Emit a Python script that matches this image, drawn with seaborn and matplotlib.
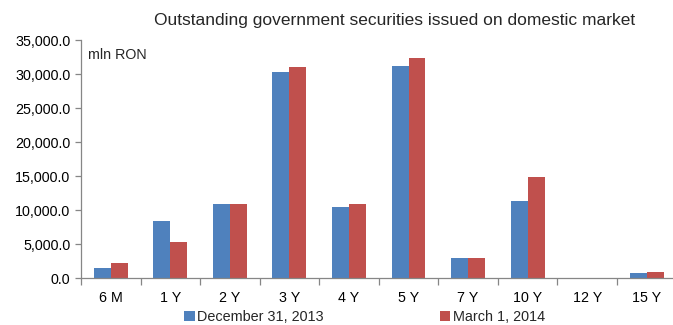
import numpy as np
import pandas as pd
import seaborn as sns
import matplotlib.pyplot as plt
from matplotlib.ticker import FuncFormatter, FixedLocator

maturities = ["6 M", "1 Y", "2 Y", "3 Y", "4 Y", "5 Y", "7 Y", "10 Y", "12 Y", "15 Y"]
dec_2013 = [1560, 8370, 10910, 30250, 10470, 31130, 2940, 11350, 0, 780]
mar_2014 = [2200, 5330, 10910, 31030, 10910, 32400, 2940, 14830, 0, 930]
series_names = ["December 31, 2013", "March 1, 2014"]
y_ticks = [0, 5000, 10000, 15000, 20000, 25000, 30000, 35000]

df = pd.DataFrame({
    "maturity": maturities * 2,
    "value": dec_2013 + mar_2014,
    "series": [series_names[0]] * len(maturities) + [series_names[1]] * len(maturities),
})

sns.set_theme(style="white")
plt.rcParams["font.family"] = ["Liberation Sans", "DejaVu Sans"]

fig = plt.figure(figsize=(6.73, 3.25), dpi=100)
W, H = 673, 325
ax = fig.add_axes([81 / W, 1 - 278.3 / H, (676.5 - 81) / W, (278.3 - 40) / H])

palette = {series_names[0]: "#4F81BD", series_names[1]: "#C0504D"}
sns.barplot(data=df, x="maturity", y="value", hue="series", order=maturities,
            hue_order=series_names, palette=palette, width=0.57, gap=0,
            saturation=1, edgecolor="none", linewidth=0, ax=ax, legend=True)

ax.set_xlim(-0.5, len(maturities) - 0.5)
ax.set_ylim(0, 35000)
ax.yaxis.set_major_locator(FixedLocator(y_ticks))
ax.yaxis.set_major_formatter(FuncFormatter(lambda v, p: f"{v:,.1f}"))
ax.set_xlabel("")
ax.set_ylabel("")

axis_gray = "#868686"
for side in ["top", "right"]:
    ax.spines[side].set_visible(False)
for side in ["left", "bottom"]:
    ax.spines[side].set_color(axis_gray)
    ax.spines[side].set_linewidth(0.9)

ax.tick_params(axis="y", which="major", direction="out", length=4, width=0.9,
               color=axis_gray, labelsize=10.3, labelcolor="#000000", pad=3.5, left=True)
ax.tick_params(axis="x", which="major", length=0, labelsize=10.3, labelcolor="#000000", pad=9)
ax.set_xticks(np.arange(-0.5, len(maturities), 1.0), minor=True)
ax.tick_params(axis="x", which="minor", direction="out", length=5, width=0.9,
               color=axis_gray, bottom=True)

fig.text(88 / W, 1 - 55 / H, "mln RON", fontsize=10.3, va="center", ha="left")
fig.text(394.5 / W, 1 - 20 / H, "Outstanding government securities issued on domestic market",
         ha="center", va="center", fontsize=12.5)

handles, labels = ax.get_legend_handles_labels()
ax.legend_.remove()
fig.legend(handles, labels, loc="center", bbox_to_anchor=(364.5 / W, 1 - 317 / H), ncol=2,
           frameon=False, fontsize=10.4, handlelength=0.75, handleheight=0.75,
           handletextpad=0.15, columnspacing=8.0, borderaxespad=0)

fig.savefig("out.png", dpi=100)
